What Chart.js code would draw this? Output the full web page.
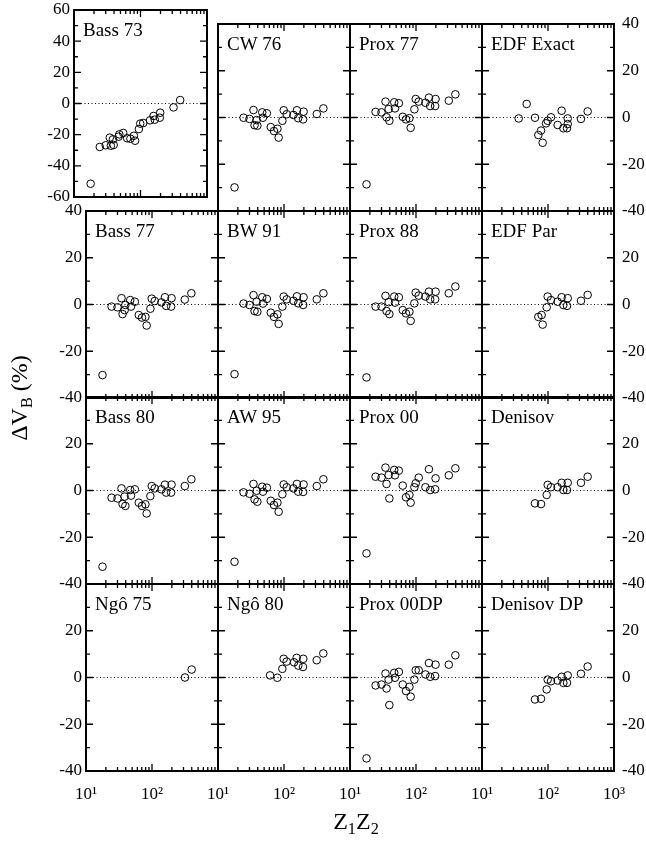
<!DOCTYPE html>
<html>
<head>
<meta charset="utf-8">
<script src="https://cdn.jsdelivr.net/npm/chart.js@4"></script>
<style>
  body { margin: 0; background: #fff; }
  #wrap { position: relative; width: 646px; height: 841px; overflow: hidden; background: #fff;
          font-family: 'Liberation Serif', 'Times New Roman', serif; }
  #wrap canvas { position: absolute; }
  .title { position: absolute; font-size: 24px; line-height: 1; color: #000; white-space: nowrap;
           transform: translate(-50%, -50%); z-index: 5; }
  .title sub { font-size: 0.68em; vertical-align: -0.3em; line-height: 0; }
  #ytitle { left: 19px; top: 398px; transform: translate(-50%, -50%) rotate(-90deg); }
  #xtitle { left: 356px; top: 821px; }
</style>
</head>
<body>
<div id="wrap">
  <div class="title" id="ytitle">ΔV<sub>B</sub> (%)</div>
  <div class="title" id="xtitle">Z<sub>1</sub>Z<sub>2</sub></div>
</div>
<script>
// Z1Z2 of the full data set (shared by most panels)
const zz = [17.8, 24.4, 30, 34.5, 35.8, 38.5, 39.5, 46.8, 48, 55, 63, 70.5, 79.5, 83, 94.5, 99, 110, 139, 157, 164, 195, 198, 314, 395];

// Delta V_B (%) for each panel
const bass73 = [-51.5, -27.9, -26.8, -21.9, -27.1, -23.0, -26.6, -21.3, -19.8, -18.9, -22.3, -22.6, -20.7, -23.9, -16.4, -12.9, -12.5, -10.8, -8.0, -10.4, -9.1, -5.9, -2.5, 2.2];
const cw76 = [-29.9, -0.1, -0.6, 3.2, -3.3, -1.1, -3.5, 2.2, -0.1, 1.8, -4.1, -5.8, -4.8, -8.6, -1.4, 3.1, 1.4, 1.1, 3.1, -0.3, -0.8, 2.5, 1.5, 3.9];
const prox77 = [-28.6, 2.4, 2.2, 6.8, 0.1, 3.6, -1.4, 6.5, 3.9, 6.1, 0.3, -0.8, -0.3, -4.4, 3.5, 7.9, 6.8, 6.3, 8.5, 4.9, 4.9, 7.9, 7.2, 9.9];
const bass77 = [-30.2, -0.9, -1.2, 2.7, -4.1, -2.4, -0.2, 1.9, -0.9, 1.2, -4.5, -5.6, -5.3, -9.0, -1.8, 2.5, 1.5, 0.9, 3.1, -0.6, -0.9, 2.7, 2.1, 4.8];
const bw91 = [-29.8, 0.4, -0.2, 4.0, -2.8, 1.2, -3.1, 3.1, 0.4, 2.4, -3.5, -5.3, -4.2, -8.3, -0.9, 3.4, 2.2, 1.6, 3.5, 0.5, -0.2, 3.1, 2.2, 4.8];
const prox88 = [-31.2, -0.9, -0.9, 3.7, -2.8, 1.0, -4.1, 3.4, 0.8, 3.1, -2.4, -3.8, -3.1, -7.0, 0.5, 5.1, 3.8, 3.4, 5.5, 2.2, 2.2, 5.5, 4.8, 7.7];
const bass80 = [-32.6, -3.1, -3.4, 0.9, -5.8, -2.6, -6.6, 0.2, -2.2, 0.5, -5.2, -6.6, -5.9, -9.8, -2.4, 1.9, 0.9, 0.5, 2.5, -0.9, -0.9, 2.5, 1.9, 4.8];
const aw95 = [-30.5, -0.8, -1.4, 2.8, -3.8, -0.1, -4.8, 1.6, -0.5, 1.2, -4.4, -6.2, -5.2, -9.1, -1.6, 2.6, 1.4, 0.9, 2.8, -0.5, -0.6, 2.6, 1.9, 4.8];
const prox00 = [-26.9, 5.9, 5.5, 9.8, 2.8, 6.6, -3.4, 8.8, 6.5, 8.5, 2.1, -2.9, -1.9, -5.2, 1.4, 3.1, 5.5, 1.4, 9.1, 0.2, 0.5, 5.2, 6.5, 9.5];
const prox00dp = [-34.6, -3.4, -3.0, 1.7, -4.7, -0.9, -11.8, 2.0, -0.1, 2.4, -3.0, -5.8, -4.0, -8.2, -0.9, 3.1, 3.1, 1.3, 6.2, 0.3, 0.6, 5.5, 5.5, 9.5];

// subsets with their own Z1Z2
const edfExactZ = [36, 47.5, 63.5, 71.4, 78.4, 83, 93.3, 98.9, 111, 140, 161, 171, 194, 199, 199, 316, 399];
const edfExact = [-0.4, 5.8, -0.1, -7.5, -5.6, -10.8, -2.5, -1.4, 0.1, -3.2, 2.9, -4.6, -4.6, -0.4, -2.8, -0.6, 2.6];
const edfParZ = [71.4, 80, 83, 95.5, 98.9, 111, 140, 161, 171, 194, 199, 316, 399];
const edfPar = [-5.3, -4.5, -8.6, -1.2, 3.4, 1.9, 1.2, 3.1, -0.2, -0.6, 2.7, 1.6, 4.1];
const denisovZ = [63.5, 78.4, 95.5, 98.9, 111, 140, 161, 171, 194, 199, 316, 399];
const denisov = [-5.5, -5.8, -1.9, 2.4, 1.4, 1.4, 3.3, 0.2, 0.2, 3.3, 3.3, 5.9];
const denisovDP = [-9.4, -9.1, -5.1, -0.9, -1.6, -1.3, 0.3, -2.3, -2.3, 0.9, 1.6, 4.7];
const ngo75Z = [316, 399];
const ngo75 = [0, 3.4];
const ngo80Z = [61.4, 79.2, 94.4, 98.9, 109.7, 142, 155.5, 164.8, 194, 196, 313, 394];
const ngo80 = [0.9, -0.1, 3.7, 8.0, 6.8, 6.5, 8.4, 5.1, 4.5, 8.0, 7.4, 10.3];

// axes
const xTickVals = [10, 100, 1000];
const xTickText = ['10¹', '10²', '10³'];
const yTicks40 = [-40, -20, 0, 20, 40];
const yTicks60 = [-60, -40, -20, 0, 20, 40, 60];

const FONT = "'Liberation Serif', 'Times New Roman', serif";
Chart.defaults.font.family = FONT;
Chart.defaults.color = '#000';

// grid geometry
const colLeft = [86, 218, 350, 482];
const rowTop = [24, 211, 397, 584];
const PW = 132, PH = 187;
const ML = 50, MR = 50, MT = 28, MB = 40;

const panels = [
  { label: 'Bass 73', xs: zz, ys: bass73, row: 0, col: 0, rect: { l: 74, t: 10, w: 133, h: 187 }, big: true },
  { label: 'CW 76', xs: zz, ys: cw76, row: 0, col: 1 },
  { label: 'Prox 77', xs: zz, ys: prox77, row: 0, col: 2 },
  { label: 'EDF Exact', xs: edfExactZ, ys: edfExact, row: 0, col: 3 },
  { label: 'Bass 77', xs: zz, ys: bass77, row: 1, col: 0 },
  { label: 'BW 91', xs: zz, ys: bw91, row: 1, col: 1 },
  { label: 'Prox 88', xs: zz, ys: prox88, row: 1, col: 2 },
  { label: 'EDF Par', xs: edfParZ, ys: edfPar, row: 1, col: 3 },
  { label: 'Bass 80', xs: zz, ys: bass80, row: 2, col: 0 },
  { label: 'AW 95', xs: zz, ys: aw95, row: 2, col: 1 },
  { label: 'Prox 00', xs: zz, ys: prox00, row: 2, col: 2 },
  { label: 'Denisov', xs: denisovZ, ys: denisov, row: 2, col: 3 },
  { label: 'Ngô 75', xs: ngo75Z, ys: ngo75, row: 3, col: 0 },
  { label: 'Ngô 80', xs: ngo80Z, ys: ngo80, row: 3, col: 1 },
  { label: 'Prox 00DP', xs: zz, ys: prox00dp, row: 3, col: 2 },
  { label: 'Denisov DP', xs: denisovZ, ys: denisovDP, row: 3, col: 3 }
];

// frame, inward ticks and panel name
const framePlugin = {
  id: 'frame',
  afterDraw(chart, args, opts) {
    const { ctx, chartArea: a, scales } = chart;
    ctx.save();
    ctx.strokeStyle = '#000';
    ctx.lineWidth = 1.3;
    ctx.beginPath();
    for (let d = 10; d < 1000; d *= 10) {
      for (let m = 1; m <= 9; m++) {
        if (m === 1 && d === 10) continue;
        const px = scales.x.getPixelForValue(m * d);
        const len = m === 1 ? 7 : 4;
        ctx.moveTo(px, a.bottom); ctx.lineTo(px, a.bottom - len);
        ctx.moveTo(px, a.top); ctx.lineTo(px, a.top + len);
      }
    }
    const lim = scales.y.max;
    for (let v = -lim + 10; v < lim; v += 10) {
      const py = scales.y.getPixelForValue(v);
      const len = v % 20 === 0 ? 7 : 4;
      ctx.moveTo(a.left, py); ctx.lineTo(a.left + len, py);
      ctx.moveTo(a.right, py); ctx.lineTo(a.right - len, py);
    }
    ctx.stroke();
    ctx.lineWidth = 2;
    ctx.strokeRect(a.left, a.top, a.right - a.left, a.bottom - a.top);
    ctx.fillStyle = '#000';
    ctx.font = '19px ' + FONT;
    ctx.textBaseline = 'alphabetic';
    ctx.fillText(opts.label, a.left + 9, a.top + 26);
    ctx.restore();
  }
};

const wrap = document.getElementById('wrap');

panels.forEach(p => {
  const r = p.rect || { l: colLeft[p.col], t: rowTop[p.row], w: PW, h: PH };
  const yTicks = p.big ? yTicks60 : yTicks40;
  const lim = yTicks[yTicks.length - 1];
  const cv = document.createElement('canvas');
  cv.width = r.w + ML + MR;
  cv.height = r.h + MT + MB;
  cv.style.left = (r.l - ML) + 'px';
  cv.style.top = (r.t - MT) + 'px';
  wrap.appendChild(cv);

  const showX = p.row === 3;
  const hideTop = (p.col === 0 && p.row >= 2) || (p.col === 3 && p.row >= 1);
  const yLabel = v => (v === lim && hideTop) ? '' : String(v);
  const yAxis = (pos, show, pad) => ({
    type: 'linear', position: pos, min: -lim, max: lim,
    grid: { display: false, drawTicks: false }, border: { display: false },
    afterBuildTicks: s => { s.ticks = yTicks.map(v => ({ value: v })); },
    ticks: { display: show, padding: pad, font: { size: 17 }, color: '#000', callback: yLabel },
    afterFit: s => { s.width = pos === 'left' ? ML : MR; }
  });

  new Chart(cv, {
    type: 'scatter',
    data: {
      datasets: [
        {
          data: p.xs.map((x, i) => ({ x: x, y: p.ys[i] })),
          pointStyle: 'circle', pointRadius: 3.8, borderWidth: 1,
          borderColor: '#000', backgroundColor: 'rgba(0,0,0,0)'
        },
        {
          type: 'line', showLine: true,
          data: [{ x: xTickVals[0], y: 0 }, { x: xTickVals[2], y: 0 }],
          borderColor: '#000', borderWidth: 1, borderDash: [1, 2.5], pointRadius: 0
        }
      ]
    },
    options: {
      responsive: false, animation: false, devicePixelRatio: 1, events: [],
      layout: { padding: { top: MT, left: 0, right: 0, bottom: 0 } },
      plugins: { legend: { display: false }, tooltip: { enabled: false }, frame: { label: p.label } },
      scales: {
        x: {
          type: 'logarithmic', position: 'bottom', min: 10, max: 1000,
          grid: { display: false, drawTicks: false }, border: { display: false },
          afterBuildTicks: s => { s.ticks = xTickVals.map(v => ({ value: v })); },
          ticks: {
            display: showX, padding: 13, autoSkip: false, maxRotation: 0,
            font: { size: 17 }, color: '#000',
            callback: v => {
              const i = xTickVals.indexOf(v);
              if (i === 2 && p.col !== 3) return '';
              return xTickText[i];
            }
          },
          afterFit: s => { s.height = MB; }
        },
        y: yAxis('left', p.col === 0, 4),
        y2: yAxis('right', p.col === 3, 8)
      }
    },
    plugins: [framePlugin]
  });
});
</script>
</body>
</html>
